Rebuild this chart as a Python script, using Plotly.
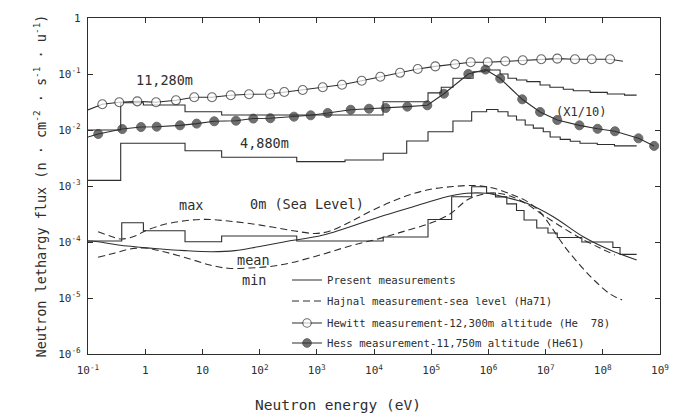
import plotly.graph_objects as go

# ---------------- data ----------------
# Present measurements (histograms): bin edges (eV) and lethargy flux values
h11280_edges = [0.1, 0.373, 0.93, 4.97, 21.7, 14400, 88000, 1.5e5, 2.4e5, 5.4e5, 8.7e5, 1.6e6,
                2.2e6, 3.1e6, 4.7e6, 8.0e6, 1.19e7, 2.04e7, 3.05e7, 6e7, 1.2e8, 2.4e8, 3.9e8]
h11280_vals = [0.010, 0.0307, 0.0279, 0.0212, 0.0185, 0.032, 0.046, 0.058, 0.084, 0.11, 0.118,
               0.100, 0.084, 0.078, 0.073, 0.0637, 0.0579, 0.0533, 0.0503, 0.047, 0.044, 0.042]

h4880_edges = [0.1, 0.373, 4.97, 21.7, 446, 3110, 14500, 37300, 88000, 2.4e5, 5.1e5, 9.3e5,
               1.47e6, 2.2e6, 3.1e6, 4.4e6, 6.1e6, 9.1e6, 1.2e7, 1.8e7, 2.7e7, 4e7, 8e7, 1.6e8, 3.9e8]
h4880_vals = [0.00126, 0.00579, 0.00427, 0.00326, 0.00272, 0.00291, 0.00384, 0.00636, 0.00933,
              0.0145, 0.0212, 0.0232, 0.0212, 0.0178, 0.0151, 0.0123, 0.0108, 0.0093, 0.0075,
              0.0068, 0.0063, 0.0058, 0.0055, 0.0052]

h0m_edges = [0.1, 0.389, 0.93, 4.97, 21.7, 446, 14500, 88000, 2.28e5, 5.1e5, 9.3e5, 1.33e6,
             2.1e6, 3.1e6, 4.2e6, 7e6, 1.1e7, 1.6e7, 4.3e7, 1.5e8, 2e8, 3.9e8]
h0m_vals = [1.04e-4, 2.21e-4, 1.59e-4, 1.01e-4, 1.28e-4, 1.04e-4, 1.23e-4, 2.52e-4, 6.44e-4,
            9.7e-4, 7.5e-4, 6.4e-4, 4.8e-4, 3.65e-4, 2.47e-4, 1.78e-4, 1.45e-4, 1.2e-4, 1.0e-4,
            8.0e-5, 6.0e-5]

# Hajnal sea-level curves (max, mean, min)
hajnal_max_E = [0.15, 0.243, 0.378, 0.664, 0.99, 1.97, 4.97, 11.1, 24.8, 62.7, 165, 416, 929, 1700,
                3800, 9620, 28500, 84500, 2.4e5, 5.83e5, 1.2e6, 2.69e6, 4.92e6, 7.98e6, 1.29e7,
                2.18e7, 3.99e7, 7.31e7, 1.34e8, 2.17e8]
hajnal_max_F = [1.53e-4, 1.28e-4, 1.13e-4, 1.28e-4, 1.57e-4, 2.01e-4, 2.4e-4, 2.54e-4, 2.4e-4,
                2.16e-4, 1.85e-4, 1.57e-4, 1.42e-4, 1.57e-4, 2.28e-4, 3.72e-4, 6.03e-4, 8.49e-4,
                9.79e-4, 1.02e-3, 9.2e-4, 6.9e-4, 5.18e-4, 3.44e-4, 1.78e-4, 8.15e-5, 3.88e-5,
                2.01e-5, 1.18e-5, 9.2e-6]

hajnal_min_E = [0.15, 0.296, 0.542, 0.99, 2.22, 6.07, 13.6, 28.1, 67.9, 152, 340, 1140, 3800, 12700,
                34800, 95300, 2.13e5, 4.23e5, 7.13e5, 1.3e6, 2.39e6, 4.37e6, 7.98e6, 1.79e7,
                3.99e7, 8.93e7, 1.63e8]
hajnal_min_F = [5.33e-5, 6.37e-5, 7.5e-5, 7.82e-5, 6.62e-5, 4.97e-5, 3.88e-5, 3.39e-5, 3.44e-5,
                3.65e-5, 4.22e-5, 5.86e-5, 8.49e-5, 1.16e-4, 1.57e-4, 2.16e-4, 3.16e-4, 5.62e-4,
                6.9e-4, 7.5e-4, 6.62e-4, 4.97e-4, 3.3e-4, 1.93e-4, 1.18e-4, 7.82e-5, 5.86e-5]

hajnal_mean_E = [0.1, 0.151, 0.339, 1.3, 4.97, 14.6, 37.2, 94.8, 278, 1300, 12700, 48600, 1.87e5,
                 4.18e5, 9.33e5, 1.82e6, 4.68e6, 1.36e7, 4.56e7, 1.34e8, 3.91e8]
hajnal_mean_F = [1.04e-4, 1.01e-4, 8.83e-5, 7.73e-5, 7.0e-5, 6.71e-5, 7.0e-5, 8.24e-5, 1.01e-4,
                 1.33e-4, 2.83e-4, 4.27e-4, 6.44e-4, 7.41e-4, 7.41e-4, 6.44e-4, 4.91e-4, 2.83e-4,
                 1.24e-4, 7.19e-5, 4.78e-5]

# Hewitt (open circles); first and last entries are the line ends without markers
hewitt_E = [0.1, 0.178, 0.352, 0.727, 1.55, 3.45, 7.2, 14.7, 31.3, 65.3, 152, 270, 567, 1270, 2760,
            6100, 12900, 28500, 58100, 118000, 261000, 490000, 972000, 1.97e6, 3.98e6, 8.4e6,
            1.6e7, 3.26e7, 6.4e7, 1.34e8, 2.25e8]
hewitt_F = [0.0228, 0.0288, 0.0313, 0.0325, 0.0313, 0.0339, 0.0384, 0.0384, 0.0417, 0.0434, 0.044,
            0.0477, 0.0518, 0.0579, 0.0644, 0.0759, 0.0895, 0.105, 0.1228, 0.137, 0.149, 0.162,
            0.162, 0.169, 0.176, 0.183, 0.188, 0.183, 0.183, 0.183, 0.169]

# Hess (filled circles); first entry is the line end without marker
hess_E = [0.1, 0.151, 0.398, 0.845, 1.59, 4.06, 7.94, 16.1, 38.6, 77.6, 154, 399, 782, 1550, 3910,
          8180, 16000, 38200, 85500, 1.67e5, 4.46e5, 8.9e5, 1.61e6, 3.9e6, 8e6, 1.6e7, 3.9e7,
          8.1e7, 1.63e8, 4.2e8, 7.9e8]
hess_F = [0.0075, 0.00849, 0.0104, 0.0113, 0.01146, 0.0121, 0.013, 0.0143, 0.01466, 0.016, 0.01625,
          0.0173, 0.0183, 0.0201, 0.023, 0.024, 0.0247, 0.0261, 0.0276, 0.0445, 0.1, 0.12, 0.083,
          0.0353, 0.021, 0.0151, 0.0121, 0.0105, 0.0095, 0.0071, 0.0052]

x_tickvals = [1e-1, 1, 10, 1e2, 1e3, 1e4, 1e5, 1e6, 1e7, 1e8, 1e9]
x_ticktext = ["10<sup>-1</sup>", "1", "10", "10<sup>2</sup>", "10<sup>3</sup>", "10<sup>4</sup>",
              "10<sup>5</sup>", "10<sup>6</sup>", "10<sup>7</sup>", "10<sup>8</sup>", "10<sup>9</sup>"]
y_tickvals = [1, 1e-1, 1e-2, 1e-3, 1e-4, 1e-5, 1e-6]
y_ticktext = ["1", "10<sup>-1</sup>", "10<sup>-2</sup>", "10<sup>-3</sup>", "10<sup>-4</sup>",
              "10<sup>-5</sup>", "10<sup>-6</sup>"]

# in-plot labels: (log10 energy, log10 flux, text)
label_logE = [0.346, 2.094, 7.63, 0.80, 2.837, 1.885, 1.90]
label_logF = [-1.107, -2.232, -1.673, -3.339, -3.32, -4.321, -4.679]
label_text = ["11,280m", "4,880m", "(X1/10)", "max", "0m (Sea Level)", "mean", "min"]

legend_names = ["Present measurements", "Hajnal measurement-sea level (Ha71)",
                "Hewitt measurement-12,300m altitude (He  78)",
                "Hess measurement-11,750m altitude (He61)"]

# ---------------- figure ----------------
INK = "#2e2e2e"
FONT = "DejaVu Sans Mono"
LW = 1.1

fig = go.Figure()


def add_hist(edges, vals, show):
    fig.add_trace(go.Scatter(
        x=edges, y=list(vals) + [vals[-1]], mode="lines", line_shape="hv",
        line=dict(color=INK, width=LW), name=legend_names[0], showlegend=show,
        legend="legend"))


add_hist(h11280_edges, h11280_vals, True)
add_hist(h4880_edges, h4880_vals, False)
add_hist(h0m_edges, h0m_vals, False)

fig.add_trace(go.Scatter(x=hajnal_max_E, y=hajnal_max_F, mode="lines", line_shape="spline",
                         line=dict(color=INK, width=LW, dash="7px,4px"),
                         name=legend_names[1], legend="legend2"))
fig.add_trace(go.Scatter(x=hajnal_min_E, y=hajnal_min_F, mode="lines", line_shape="spline",
                         line=dict(color=INK, width=LW, dash="7px,4px"), showlegend=False))
fig.add_trace(go.Scatter(x=hajnal_mean_E, y=hajnal_mean_F, mode="lines", line_shape="spline",
                         line=dict(color=INK, width=LW), showlegend=False))

hew_sizes = [0] + [9] * (len(hewitt_E) - 2) + [0]
fig.add_trace(go.Scatter(x=hewitt_E, y=hewitt_F, mode="lines+markers",
                         line=dict(color=INK, width=LW),
                         marker=dict(size=hew_sizes, color="white", line=dict(color=INK, width=1.1)),
                         name=legend_names[2], legend="legend3"))
hess_sizes = [0] + [9] * (len(hess_E) - 1)
fig.add_trace(go.Scatter(x=hess_E, y=hess_F, mode="lines+markers",
                         line=dict(color=INK, width=LW),
                         marker=dict(size=hess_sizes, color="#333333", line=dict(color=INK, width=1)),
                         name=legend_names[3], legend="legend4"))

for lx, ly, txt in zip(label_logE, label_logF, label_text):
    fs = 12 if txt.startswith("(") else 13.5
    fig.add_annotation(x=lx, y=ly, xref="x", yref="y", text=txt, showarrow=False,
                       font=dict(family=FONT, size=fs, color=INK), xanchor="center", yanchor="middle")

# Page body has an 8px margin, so the figure is drawn at (8, 8) in the window.
OFF = 8
PL, PT, PW, PH = 88, 18, 572, 336   # plot area in window pixels

# x-axis title (drawn left of centre as in the original)
fig.add_annotation(x=(338 - PL) / PW, y=-(405 - (PT + PH)) / PH, xref="paper", yref="paper",
                   text="Neutron energy (eV)", showarrow=False, xanchor="center", yanchor="middle",
                   font=dict(family=FONT, size=14.5, color=INK))

axis_common = dict(type="log", showline=True, linecolor=INK, linewidth=1.2, mirror="ticks",
                   ticks="inside", ticklen=5, tickwidth=1, tickcolor=INK, showgrid=False,
                   zeroline=False, automargin=False,
                   tickfont=dict(family=FONT, size=11, color=INK))

fig.update_xaxes(range=[-1, 9], tickvals=x_tickvals, ticktext=x_ticktext, ticklabelstandoff=6,
                 **axis_common)
fig.update_yaxes(range=[-6, 0], tickvals=y_tickvals, ticktext=y_ticktext, ticklabelstandoff=4,
                 title=dict(text="Neutron lethargy flux (n · cm<sup>-2</sup> · s<sup>-1</sup> · u<sup>-1</sup>)",
                            font=dict(family=FONT, size=13.5, color=INK), standoff=8), **axis_common)

leg_x = (287 - PL) / PW
row_px = [280, 301, 323, 343]
leg_common = dict(x=leg_x, xanchor="left", yanchor="middle", bgcolor="rgba(0,0,0,0)",
                  font=dict(family=FONT, size=10.7, color=INK), itemwidth=30)
W, H = 681 - OFF, 415 - OFF
fig.update_layout(
    width=W, height=H,
    margin=dict(l=PL - OFF, r=W - (PL - OFF) - PW, t=PT - OFF, b=H - (PT - OFF) - PH),
    paper_bgcolor="white", plot_bgcolor="white",
    font=dict(family=FONT, color=INK),
    showlegend=True,
    legend=dict(y=(PT + PH - row_px[0]) / PH, **leg_common),
    legend2=dict(y=(PT + PH - row_px[1]) / PH, **leg_common),
    legend3=dict(y=(PT + PH - row_px[2]) / PH, **leg_common),
    legend4=dict(y=(PT + PH - row_px[3]) / PH, **leg_common),
)

fig.write_html("out.html")
